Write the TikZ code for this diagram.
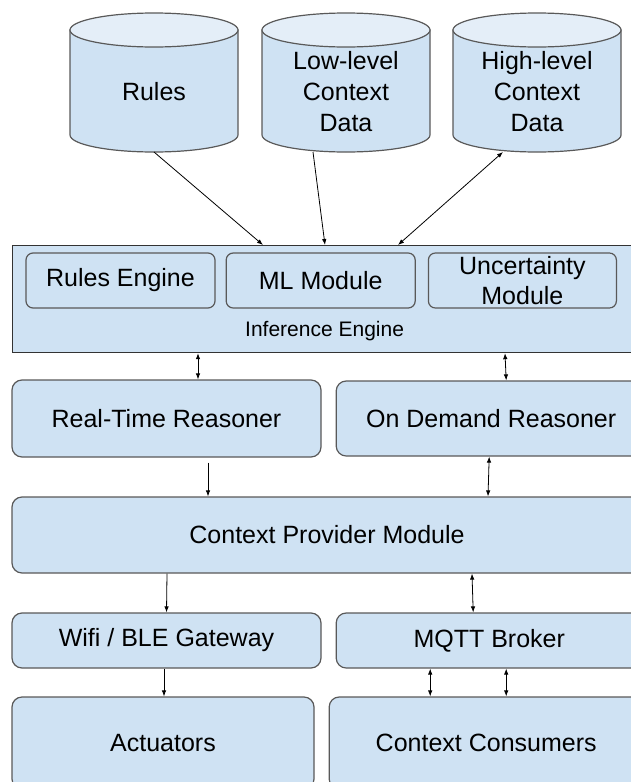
\documentclass[tikz,border=0pt]{standalone}
\usepackage{fontspec}
\setmainfont{Liberation Sans}
\usepackage{xcolor}
\usetikzlibrary{arrows.meta, positioning}
\definecolor{boxfill}{HTML}{CFE2F3}
\definecolor{capfill}{HTML}{E4EEF8}
\definecolor{boxline}{HTML}{595959}

\begin{document}
\begin{tikzpicture}[
  x=1pt, y=1pt,
  node distance=14pt,
  box/.style={draw=boxline, line width=1.2pt, fill=boxfill, rounded corners=10pt, font=\fontsize{25}{30}\selectfont, align=center},
  inbox/.style={box, rounded corners=7pt, minimum width=189pt, minimum height=55pt, inner ysep=0pt},
  dbframe/.style={minimum width=168pt, minimum height=139pt, inner sep=0pt, outer sep=0pt},
  dbline/.style={draw=boxline, line width=1.2pt},
  dbtext/.style={align=center, font=\fontsize{25}{31}\selectfont},
  arrow/.style={-{Latex[length=6pt,width=4.5pt]}, line width=0.8pt},
  dblarrow/.style={{Latex[length=6pt,width=4.5pt]}-{Latex[length=6pt,width=4.5pt]}, line width=0.8pt}
]
\useasboundingbox (0,0) rectangle (631,-782);
\clip (0,0) rectangle (631,-782);

% Data stores
\foreach \name/\x/\txt in {rules/154/Rules, low/346/{Low-level\\Context\\Data}, high/537/{High-level\\Context\\Data}} {
  \node[dbframe] (\name) at (\x,-82.5) {};
  \draw[dbline, fill=boxfill] ([yshift=-17pt]\name.north west) -- ([yshift=17pt]\name.south west)
    arc[start angle=180, end angle=360, x radius=84pt, y radius=17pt] -- ([yshift=-17pt]\name.north east) -- cycle;
  \draw[dbline, fill=capfill] ([yshift=-17pt]\name.north) ellipse [x radius=84pt, y radius=17pt];
  \node[dbtext] (\name txt) at ([yshift=-9.5pt]\name.center) {\txt};
}

% Inference engine
\node[box, sharp corners, draw=black!80, anchor=north west, minimum width=624pt, minimum height=107pt,
  label={[font=\fontsize{21}{25}\selectfont, anchor=center, yshift=22pt]south:Inference Engine}] (ie) at (12,-245) {};
\node[inbox] (re) at (120.5,-280.5) {Rules Engine};
\node[inbox, right=10pt of re] (ml) {ML Module};
\node[inbox, minimum width=188pt, right=12pt of ml] (unc) {Uncertainty\\Module};

% Reasoners and the rest
\node[box, minimum width=309pt, minimum height=77pt] (rt) at (166.5,-418.5) {Real-Time Reasoner};
\node[box, minimum width=310pt, minimum height=75pt, right=of rt] (odr) {On Demand Reasoner};
\node[box, minimum width=630pt, minimum height=76pt] (cpm) at (327,-535) {Context Provider Module};
\node[box, minimum width=309pt, minimum height=55pt] (gw) at (166.5,-640.5) {Wifi / BLE Gateway};
\node[box, minimum width=306pt, minimum height=55pt, right=of gw] (mqtt) {MQTT Broker};
\node[box, minimum width=302pt, minimum height=92pt] (act) at (163,-743) {Actuators};
\node[box, minimum width=314pt, minimum height=92pt, right=of act] (cc) {Context Consumers};

% Pointers
\draw[arrow] (rules.south) -- ([xshift=251pt]ie.north west);
\draw[arrow] ([xshift=-33pt]low.south) -- ([xshift=313pt]ie.north west);
\draw[dblarrow] ([xshift=-34pt]high.south) -- ([xshift=386pt]ie.north west);
\draw[dblarrow] ([xshift=186pt]ie.south west) -- ([xshift=31.5pt]rt.north);
\draw[dblarrow] ([xshift=493pt]ie.south west) -- ([xshift=15pt]odr.north);
\draw[arrow] ([xshift=41.5pt,yshift=-5pt]rt.south) -- ([xshift=-119pt]cpm.north);
\draw[dblarrow] ([xshift=-2pt]odr.south) -- ([xshift=161pt]cpm.north);
\draw[arrow] ([xshift=-160pt]cpm.south) -- (gw.north);
\draw[dblarrow] ([xshift=145pt]cpm.south) -- ([xshift=-16pt]mqtt.north);
\draw[arrow] ([xshift=-2.5pt]gw.south) -- ([xshift=1pt]act.north);
\draw[dblarrow] ([xshift=-59pt]mqtt.south) -- ([xshift=-56pt]cc.north);
\draw[dblarrow] ([xshift=17pt]mqtt.south) -- ([xshift=20pt]cc.north);

\end{tikzpicture}
\end{document}
